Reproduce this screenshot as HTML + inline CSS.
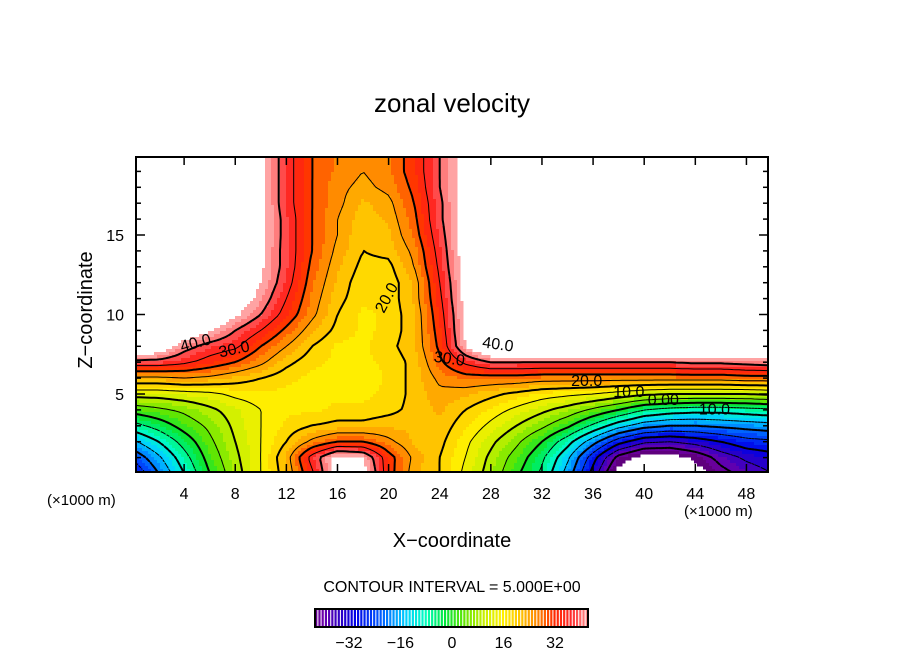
<!DOCTYPE html>
<html><head><meta charset="utf-8">
<style>
html,body{margin:0;padding:0;background:#fff;}
body{width:904px;height:654px;overflow:hidden;font-family:"Liberation Sans",sans-serif;}
svg text{font-family:"Liberation Sans",sans-serif;fill:#000;}
</style></head>
<body>
<svg id="chart" width="904" height="654" viewBox="0 0 904 654">
  <text x="452" y="112" text-anchor="middle" font-size="26">zonal velocity</text>
  <g id="field"></g>
  <g id="contours"></g>
  <g id="clabels"></g>
  <rect x="136" y="157" width="632" height="315" fill="none" stroke="#000" stroke-width="2"/>
  <g id="ticks"></g>
  <text x="98" y="316" text-anchor="middle" font-size="20" transform="rotate(-90 92 316)">Z−coordinate</text>
  <text x="452" y="547" text-anchor="middle" font-size="20">X−coordinate</text>
  <text x="47" y="505" font-size="15">(×1000 m)</text>
  <text x="684" y="516" font-size="15">(×1000 m)</text>
  <text x="452" y="592" text-anchor="middle" font-size="16">CONTOUR INTERVAL = 5.000E+00</text>
  <g id="cbar"></g>
</svg>
<script>
// ---- data ----
const xNodes = [0,2,4,6,8,10,12,14,16,18,20,22,24,26,28,30,32,34,36,38,40,42,44,46,48,50];
const zNodes = [0,1,2,3,4,5,6,7,8,9,10,11,12,13,14,15,16,17,18,19,20];
const row0  = [-30,-20,-10,0,8,15,22,34,48,48,32,23,20,14,8,1,-6,-17,-32,-48,-50,-50,-48,-42,-38,-35];
const row1  = [-24,-16,-7,2,9,15,23,37,47,45,32,24,20,15,9,3,-4,-14,-28,-42,-48,-48,-44,-38,-34,-32];
const row2  = [-16,-10,-3,4,10,15,20,26,30,30,26,22,21,16,11,6,0,-8,-18,-28,-34,-35,-33,-30,-27,-26];
const row3  = [-7,-3,2,6,11,15,18,20,21,21,22,22,22,18,14,10,6,1,-6,-13,-18,-20,-20,-19,-18,-17];
const row4  = [2,4,6,9,12,15,17,17,18,18,19,21,23,20,17,14,11,8,4,0,-5,-7,-8,-8,-7,-6];
const row5  = [12,12,13,14,16,17,17,17,17,17,18,21,24,23,21,19,17,16,15,13,11,10,10,10,10,11];
const row6  = [24,24,25,24,22,20,18,17,17,16,18,21,26,28,28,28,27,27,27,27,27,27,27,27,28,28];
const row7  = [38,38,36,33,30,26,21,18,17,17,18,21,29,36,40,40,40,40,40,40,40,40,41,41,42,43];
const row8  = [55,50,42,38,36,30,25,20,17,17,19,22,31,45,55,55,55,55,55,55,55,55,55,55,55,55];
const row9  = [55,55,50,46,40,35,29,23,19,17,18,22,32,46,55,55,55,55,55,55,55,55,55,55,55,55];
const row10 = [55,55,55,52,46,40,33,26,20,17,18,22,33,46,55,55,55,55,55,55,55,55,55,55,55,55];
const row11 = [55,55,55,55,50,43,35,27,21,18,18,23,34,47,55,55,55,55,55,55,55,55,55,55,55,55];
const row12 = [55,55,55,55,53,45,37,28,22,18,18,23,35,47,55,55,55,55,55,55,55,55,55,55,55,55];
const row13 = [55,55,55,55,55,46,38,29,23,19,19,25,36,48,55,55,55,55,55,55,55,55,55,55,55,55];
const row14 = [55,55,55,55,55,46,38,30,24,20,21,26,37,48,55,55,55,55,55,55,55,55,55,55,55,55];
const row15 = [55,55,55,55,55,47,38,30,25,20,22,28,38,48,55,55,55,55,55,55,55,55,55,55,55,55];
const row16 = [55,55,55,55,55,47,38,30,25,21,23,29,39,48,55,55,55,55,55,55,55,55,55,55,55,55];
const row17 = [55,55,55,55,55,47,37,30,26,22,24,30,39,48,55,55,55,55,55,55,55,55,55,55,55,55];
const row18 = [55,55,55,55,55,47,37,30,26,24,26,31,40,48,55,55,55,55,55,55,55,55,55,55,55,55];
const row19 = [55,55,55,55,55,47,37,30,27,25,27,32,40,48,55,55,55,55,55,55,55,55,55,55,55,55];
const row20 = [55,55,55,55,55,47,37,30,27,25,27,32,40,48,55,55,55,55,55,55,55,55,55,55,55,55];
const grid = [row0,row1,row2,row3,row4,row5,row6,row7,row8,row9,row10,row11,row12,row13,row14,row15,row16,row17,row18,row19,row20];
const xTicks = [4,8,12,16,20,24,28,32,36,40,44,48];
const yTicks = [5,10,15];
const cbarTicks = [-32,-16,0,16,32];
const contourLevels = [-40,-35,-30,-25,-20,-15,-10,-5,0,5,10,15,20,25,30,35,40];
const labelTexts = ["40.0","30.0","20.0","40.0","30.0","20.0","10.0","0.00","10.0"];
const labelX = [5.0, 8.0, 20.2, 28.5, 24.7, 35.5, 38.8, 41.5, 45.5];
const labelZ = [7.9, 7.5, 10.9, 7.8, 6.9, 5.5, 4.8, 4.3, 3.7];
const labelRot = [-15,-12,-62,8,8,0,0,0,0];

// ---- scales ----
const PX0=136, PX1=768, PY0=157, PY1=472;
const xs = v => 133 + 12.78*v;
const zs = v => 473.5 - 15.9*v;
const xinv = p => (p-133)/12.78;
const zinv = p => (473.5-p)/15.9;
const NS="http://www.w3.org/2000/svg";

function val(x,z){
  let gx=Math.max(0,Math.min(x/2,xNodes.length-1.0001));
  let gz=Math.max(0,Math.min(z,zNodes.length-1.0001));
  const i=Math.floor(gx), j=Math.floor(gz), fx=gx-i, fz=gz-j;
  const a=grid[j][i], b=grid[j][i+1], c=grid[j+1][i], d=grid[j+1][i+1];
  return (a*(1-fx)+b*fx)*(1-fz)+(c*(1-fx)+d*fx)*fz;
}
const stops=[[-45,[90,0,110]],[-40,[110,0,170]],[-34,[40,0,200]],[-30,[0,0,230]],[-22,[0,90,255]],[-14,[0,210,255]],[-8,[0,255,190]],[-2,[0,230,60]],[4,[100,230,0]],[10,[200,240,0]],[16,[255,240,0]],[22,[255,190,0]],[27,[255,130,0]],[32,[255,40,0]],[37,[255,40,40]],[42,[255,140,140]],[45,[255,180,180]]];
function cmap(v){
  if(v>45||v<-45) return "#ffffff";
  for(let k=0;k<stops.length-1;k++){
    const [v0,c0]=stops[k],[v1,c1]=stops[k+1];
    if(v<=v1){const t=(v-v0)/(v1-v0);
      return "rgb("+c0.map((c,n)=>Math.round(c+(c1[n]-c)*t)).join(",")+")";}
  }
  return "#ffffff";
}
const band = v => Math.floor(v/2.5)*2.5+1.25;

// ---- field ----
const field=document.getElementById('field');
const S=3;
const nx=Math.ceil((PX1-PX0)/S), ny=Math.ceil((PY1-PY0)/S);
for(let r=0;r<ny;r++){
  const py=PY0+r*S, z=zinv(py+S/2);
  let start=0, cur=null;
  for(let c=0;c<=nx;c++){
    const col = c<nx ? cmap(band(val(xinv(PX0+c*S+S/2),z))) : null;
    if(col!==cur){
      if(cur!==null && cur!=="#ffffff"){
        const rc=document.createElementNS(NS,'rect');
        rc.setAttribute('x',PX0+start*S); rc.setAttribute('y',py);
        rc.setAttribute('width',Math.min((c-start)*S,PX1-PX0-start*S)+0.5);
        rc.setAttribute('height',Math.min(S,PY1-py)+0.5);
        rc.setAttribute('fill',cur);
        
        
        field.appendChild(rc);
      }
      cur=col; start=c;
    }
  }
}

// ---- contours (marching squares) ----
const cg=document.getElementById('contours');
const NX=nx+1, NY=ny+1;
const vals=[];
for(let r=0;r<NY;r++){const a=[];for(let c=0;c<NX;c++){a.push(val(xinv(Math.min(PX0+c*S,PX1)),zinv(Math.min(PY0+r*S,PY1))));}vals.push(a);}
contourLevels.forEach(L=>{
  let d="";
  const P=(c,r)=>[Math.min(PX0+c*S,PX1),Math.min(PY0+r*S,PY1)];
  for(let r=0;r<NY-1;r++)for(let c=0;c<NX-1;c++){
    const v=[vals[r][c],vals[r][c+1],vals[r+1][c+1],vals[r+1][c]];
    const p=[P(c,r),P(c+1,r),P(c+1,r+1),P(c,r+1)];
    const pts=[];
    for(let e=0;e<4;e++){
      const a=v[e], b=v[(e+1)%4];
      if((a<L)!==(b<L)){
        const t=(L-a)/(b-a), pa=p[e], pb=p[(e+1)%4];
        pts.push([pa[0]+(pb[0]-pa[0])*t, pa[1]+(pb[1]-pa[1])*t]);
      }
    }
    for(let k=0;k+1<pts.length;k+=2)
      d+="M"+pts[k][0].toFixed(1)+" "+pts[k][1].toFixed(1)+"L"+pts[k+1][0].toFixed(1)+" "+pts[k+1][1].toFixed(1);
  }
  if(!d) return;
  const path=document.createElementNS(NS,'path');
  path.setAttribute('d',d);
  path.setAttribute('fill','none');
  path.setAttribute('stroke','#000');
  path.setAttribute('stroke-width', L%10===0 ? 2 : 1);
  path.setAttribute('stroke-linecap','round');
  if(L<0) path.setAttribute('stroke-dasharray','2 2');
  
  
  cg.appendChild(path);
});

// ---- contour labels ----
const lg=document.getElementById('clabels');
labelTexts.forEach((t,i)=>{
  const x=xs(labelX[i]), y=zs(labelZ[i]);
  const tx=document.createElementNS(NS,'text');
  tx.setAttribute('x',x); tx.setAttribute('y',y);
  tx.setAttribute('font-size','16');
  tx.setAttribute('text-anchor','middle');
  tx.setAttribute('transform','rotate('+labelRot[i]+' '+x+' '+y+')');
  tx.textContent=t;
  
  
  lg.appendChild(tx);
});

// ---- ticks ----
const tg=document.getElementById('ticks');
function line(x1,y1,x2,y2,w){
  const l=document.createElementNS(NS,'line');
  l.setAttribute('x1',x1);l.setAttribute('y1',y1);l.setAttribute('x2',x2);l.setAttribute('y2',y2);
  l.setAttribute('stroke','#000');l.setAttribute('stroke-width',w||1.5);
  
  
  tg.appendChild(l);
}
function label(x,y,t,anchor,name){
  const tx=document.createElementNS(NS,'text');
  tx.setAttribute('x',x);tx.setAttribute('y',y);tx.setAttribute('font-size','16');
  tx.setAttribute('text-anchor',anchor);tx.textContent=t;
  
  
  tg.appendChild(tx);
}
xTicks.forEach(v=>{
  const x=xs(v);
  line(x,PY1,x,PY1-8); line(x,PY0,x,PY0+8);
  label(x,499,String(v),'middle','x-tick-label');
});
for(let z=1;z<=19;z++){
  const y=zs(z), len=(z%5===0)?9:5;
  line(PX0,y,PX0+len,y); line(PX1,y,PX1-len,y);
}
yTicks.forEach(v=>label(124,zs(v)+6,String(v),'end','y-tick-label'));

// ---- colorbar ----
const cb=document.getElementById('cbar');
const cbX0=315, cbX1=588, cbY0=609, cbY1=627;
const cbs = v => 452 + (v)*3.22;
for(let v=-42.5; v<42.5; v+=1){
  const r=document.createElementNS(NS,'rect');
  r.setAttribute('x',cbs(v)); r.setAttribute('y',cbY0);
  r.setAttribute('width',2.2); r.setAttribute('height',cbY1-cbY0);
  r.setAttribute('fill',cmap(Math.max(-44.9,Math.min(44.9,v+0.5))));
  
  
  cb.appendChild(r);
}
const fr=document.createElementNS(NS,'rect');
fr.setAttribute('x',cbX0);fr.setAttribute('y',cbY0);fr.setAttribute('width',cbX1-cbX0);fr.setAttribute('height',cbY1-cbY0);
fr.setAttribute('fill','none');fr.setAttribute('stroke','#000');fr.setAttribute('stroke-width','2');


cb.appendChild(fr);
cbarTicks.forEach(v=>{
  const tx=document.createElementNS(NS,'text');
  tx.setAttribute('x',cbs(v));tx.setAttribute('y',648);tx.setAttribute('font-size','16');
  tx.setAttribute('text-anchor','middle');tx.textContent=(v<0?'−':'')+Math.abs(v);
  
  
  cb.appendChild(tx);
});
</script>
</body></html>
